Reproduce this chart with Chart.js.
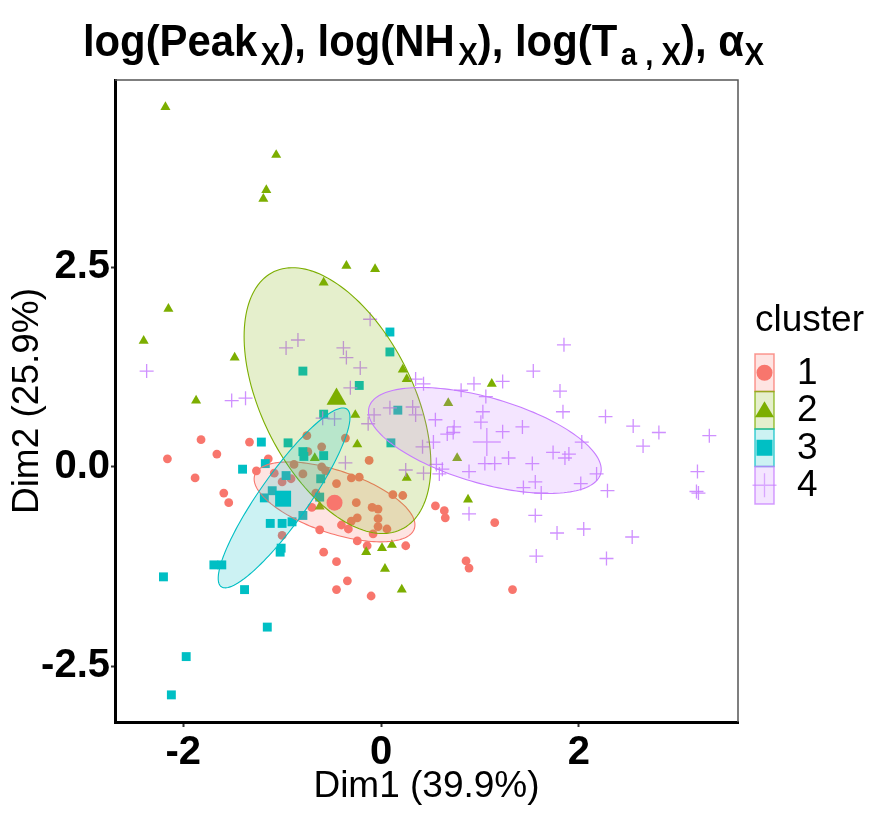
<!DOCTYPE html>
<html>
<head>
<meta charset="utf-8">
<script src="https://cdn.jsdelivr.net/npm/chart.js@4.4.1/dist/chart.umd.min.js"></script>
<style>
  html, body { margin: 0; padding: 0; background: #fff; }
  #wrap { position: relative; width: 895px; height: 813px; }
  #title {
    position: absolute; left: 0; top: 18px; width: 847px; text-align: center;
    font-family: "Liberation Sans", Arial, Helvetica, sans-serif; font-weight: bold;
    font-size: 45px; line-height: 45px; color: #000; white-space: nowrap;
    transform: scaleX(0.93); transform-origin: 423.5px 50%;
  }
  #title .s { font-size: 0.7em; vertical-align: -0.28em; margin-left: 0.12em; }
  canvas { position: absolute; left: 0; top: 0; }
</style>
</head>
<body>
<div id="wrap">
  <canvas id="c" width="895" height="813" style="width:895px;height:813px"></canvas>
  <div id="title">log(Peak<span class="s">X</span>), log(NH<span class="s">X</span>), log(T<span class="s">a , X</span>), α<span class="s" style="margin-left:0.02em">X</span></div>
</div>
<script>
// ---- data ----
const clusterNames = ['1', '2', '3', '4'];
const clusterColors = ['#F8766D', '#7CAE00', '#00BFC4', '#C77CFF'];

const cluster1 = [[-1.82,0.34],[-1.33,0.31],[-1.66,0.16],[-2.16,0.10],[-1.88,-0.14],[-1.26,-0.05],[-1.14,0.10],[-1.59,-0.33],[-1.54,-0.45],[-0.75,0.39],[-0.60,0.25],[-0.74,0.19],[-0.36,0.36],[-1.08,-0.08],[-1.00,-0.19],[-0.91,-0.15],[-0.88,0.03],[-0.79,-0.09],[-0.60,0.00],[-0.56,-0.05],[-0.45,-0.21],[-0.66,-0.33],[-0.70,-0.51],[-0.30,-0.14],[-0.22,-0.13],[-0.12,0.08],[-0.25,-0.45],[-0.09,-0.51],[-0.03,-0.53],[0.12,-0.35],[0.22,-0.36],[-0.24,-0.64],[-0.30,-0.68],[-0.03,-0.65],[-0.03,-0.75],[0.06,-0.78],[-0.08,-0.84],[-0.40,-0.73],[-0.33,-0.78],[-0.62,-0.79],[-1.00,-0.86],[-0.24,-0.93],[-0.14,-0.99],[0.25,-0.99],[-0.58,-1.07],[-0.45,-1.19],[-0.34,-1.43],[-0.45,-1.54],[-0.10,-1.62],[0.55,-0.49],[0.64,-0.55],[0.65,-0.64],[1.15,-0.70],[0.86,-1.18],[0.89,-1.27],[1.33,-1.54]];

const cluster2 = [[-2.18,4.51],[-1.06,3.91],[-1.16,3.47],[-1.19,3.36],[-0.35,2.52],[-0.06,2.48],[-0.58,2.31],[-2.15,1.98],[-2.40,1.58],[-1.48,1.37],[0.22,1.22],[0.26,1.10],[-1.87,0.83],[-0.26,0.65],[-0.24,0.28],[-0.67,0.11],[0.26,-0.14],[-0.62,-0.50],[-0.15,-1.07],[0.01,-1.02],[0.11,-0.98],[0.04,-1.28],[0.21,-1.54],[1.12,1.04],[0.68,0.80],[0.77,0.11],[0.88,-0.41]];

const cluster3 = [[0.09,1.69],[0.09,1.44],[-0.79,1.20],[-0.22,1.02],[-0.58,0.66],[0.17,0.71],[0.10,0.30],[-1.21,0.31],[-0.94,0.30],[-0.79,0.19],[-0.78,0.13],[-0.58,0.14],[-1.40,-0.03],[-1.17,0.04],[-0.96,-0.11],[-0.61,-0.15],[-1.10,-0.30],[-1.18,-0.39],[-0.62,-0.38],[-0.79,-0.61],[-1.12,-0.71],[-1.00,-0.71],[-0.90,-0.69],[-1.01,-1.02],[-1.02,-1.07],[-1.69,-1.23],[-1.61,-1.23],[-2.20,-1.38],[-1.38,-1.54],[-1.15,-2.01],[-1.97,-2.38],[-2.12,-2.86]];

const cluster4 = [[-0.11,1.85],[-0.84,1.59],[-0.96,1.49],[-0.38,1.49],[-0.35,1.37],[-0.21,1.24],[-2.37,1.20],[0.35,1.10],[0.43,1.04],[-0.31,0.99],[-1.37,0.86],[-1.51,0.83],[-0.59,0.61],[-0.47,0.60],[-0.07,0.65],[0.09,0.74],[0.32,0.75],[0.35,0.65],[-0.13,0.54],[-0.36,0.05],[0.25,-0.04],[0.43,-0.08],[0.42,0.25],[0.53,0.31],[0.55,0.59],[1.85,1.53],[1.54,1.20],[0.94,1.04],[1.23,1.07],[0.81,0.96],[1.06,0.88],[1.81,0.95],[2.27,0.63],[1.84,0.69],[1.03,0.69],[1.01,0.56],[0.74,0.50],[0.67,0.41],[0.73,0.43],[1.23,0.44],[1.43,0.50],[2.03,0.31],[1.74,0.18],[1.90,0.16],[1.86,0.11],[1.29,0.11],[1.05,0.04],[1.15,0.04],[1.53,0.04],[2.18,-0.09],[2.02,-0.21],[1.56,-0.19],[1.44,-0.26],[1.62,-0.33],[2.29,-0.30],[0.89,-0.06],[0.62,-0.03],[0.56,0.03],[0.59,-0.09],[2.55,0.51],[2.81,0.43],[2.65,0.26],[3.32,0.39],[3.20,-0.06],[3.19,-0.31],[3.21,-0.33],[0.89,-0.59],[1.56,-0.61],[1.78,-0.83],[2.05,-0.78],[2.54,-0.88],[1.57,-1.12],[2.28,-1.15]];

const centroids = [[-0.47,-0.45],[-0.45,0.85],[-0.99,-0.40],[1.07,0.31]];

// ellipse parameters: centre x, centre y, var x, var y, cov xy (data units)
const ellipseCX  = [-0.47, -0.44, -0.98, 1.05];
const ellipseCY  = [-0.44,  0.83, -0.39, 0.33];
const ellipseSXX = [0.661, 0.892, 0.444, 1.385];
const ellipseSYY = [0.251, 2.778, 1.272, 0.441];
const ellipseSXY = [-0.234, -0.758, 0.672, -0.428];

const xTicks = [-2, 0, 2];
const xTickLabels = ['-2', '0', '2'];
const yTicks = [-2.5, 0, 2.5];
const yTickLabels = ['-2.5', '0.0', '2.5'];

const titleText = 'log(Peak_X), log(NH_X), log(T_a,X), α_X';
const xTitle = 'Dim1 (39.9%)';
const yTitle = 'Dim2 (25.9%)';
const legendTitle = 'cluster';

// ---- chart ----
const FAMILY = '"Liberation Sans", Arial, Helvetica, sans-serif';
function rgba(hex, a) {
  const n = parseInt(hex.slice(1), 16);
  return `rgba(${(n >> 16) & 255},${(n >> 8) & 255},${n & 255},${a})`;
}
const styles = ['circle', 'triangle', 'rect', 'cross'];
const radii = [4.4, 5.8, 6.3, 7];
const bigRadii = [8, 11.5, 11.3, 14];
const clusterData = [cluster1, cluster2, cluster3, cluster4];

const datasets = [];
clusterData.forEach((pts, i) => {
  const cross = styles[i] === 'cross';
  datasets.push({
    label: clusterNames[i],
    data: pts.map(p => ({ x: p[0], y: p[1] })),
    pointStyle: styles[i],
    pointRadius: radii[i],
    pointHoverRadius: radii[i],
    backgroundColor: clusterColors[i],
    borderColor: cross ? rgba(clusterColors[i], 0.85) : clusterColors[i],
    borderWidth: cross ? 1.3 : 0,
    order: 5 - i
  });
});
centroids.forEach((p, i) => {
  const cross = styles[i] === 'cross';
  datasets.push({
    label: 'centre ' + clusterNames[i],
    data: [{ x: p[0], y: p[1] }],
    pointStyle: styles[i],
    pointRadius: bigRadii[i],
    pointHoverRadius: bigRadii[i],
    backgroundColor: clusterColors[i],
    borderColor: cross ? rgba(clusterColors[i], 0.7) : clusterColors[i],
    borderWidth: cross ? 1.5 : 0,
    order: 1
  });
});

const ellipsePlugin = {
  id: 'ellipses',
  afterDatasetDraw(chart, args) {
    if (args.index !== 3) return;
    const { ctx, chartArea } = chart;
    const xs = chart.scales.x, ys = chart.scales.y;
    ctx.save();
    ctx.beginPath();
    ctx.rect(chartArea.left, chartArea.top, chartArea.right - chartArea.left, chartArea.bottom - chartArea.top);
    ctx.clip();
    for (let i = 0; i < 4; i++) {
      const l11 = Math.sqrt(ellipseSXX[i]);
      const l21 = ellipseSXY[i] / l11;
      const l22 = Math.sqrt(ellipseSYY[i] - l21 * l21);
      ctx.beginPath();
      const N = 160;
      for (let k = 0; k <= N; k++) {
        const t = (k / N) * Math.PI * 2;
        const dx = ellipseCX[i] + l11 * Math.cos(t);
        const dy = ellipseCY[i] + l21 * Math.cos(t) + l22 * Math.sin(t);
        const px = xs.getPixelForValue(dx), py = ys.getPixelForValue(dy);
        if (k === 0) ctx.moveTo(px, py); else ctx.lineTo(px, py);
      }
      ctx.closePath();
      ctx.fillStyle = rgba(clusterColors[i], 0.2);
      ctx.fill();
      ctx.strokeStyle = clusterColors[i];
      ctx.lineWidth = 1.1;
      ctx.stroke();
    }
    ctx.restore();
  }
};

const framePlugin = {
  id: 'frame',
  afterDraw(chart) {
    const { ctx, chartArea } = chart;
    ctx.save();
    ctx.strokeStyle = '#555';
    ctx.lineWidth = 1.5;
    ctx.beginPath();
    ctx.moveTo(chartArea.left, chartArea.top);
    ctx.lineTo(chartArea.right, chartArea.top);
    ctx.lineTo(chartArea.right, chartArea.bottom);
    ctx.stroke();
    ctx.restore();
  }
};

const legendPlugin = {
  id: 'clusterLegend',
  afterDraw(chart) {
    const { ctx } = chart;
    const x0 = 755, w = 19, h = 37.5, top = 354;
    ctx.save();
    ctx.fillStyle = '#000';
    ctx.font = `37px ${FAMILY}`;
    ctx.textBaseline = 'alphabetic';
    ctx.textAlign = 'left';
    ctx.fillText(legendTitle, x0, 331);
    for (let i = 0; i < 4; i++) {
      const y = top + i * h;
      ctx.fillStyle = rgba(clusterColors[i], 0.2);
      ctx.fillRect(x0, y, w, h);
      ctx.strokeStyle = rgba(clusterColors[i], 0.75);
      ctx.lineWidth = 1.5;
      ctx.strokeRect(x0, y, w, h);
      const cx = x0 + w / 2, cy = y + h / 2;
      ctx.fillStyle = clusterColors[i];
      ctx.strokeStyle = clusterColors[i];
      if (i === 0) {
        ctx.beginPath(); ctx.arc(cx, cy, 8, 0, Math.PI * 2); ctx.fill();
      } else if (i === 1) {
        ctx.beginPath(); ctx.moveTo(cx, cy - 9); ctx.lineTo(cx + 9.5, cy + 7); ctx.lineTo(cx - 9.5, cy + 7); ctx.closePath(); ctx.fill();
      } else if (i === 2) {
        ctx.fillRect(cx - 8, cy - 8, 16, 16);
      } else {
        ctx.strokeStyle = rgba(clusterColors[i], 0.6);
        ctx.lineWidth = 1.3;
        ctx.beginPath(); ctx.moveTo(cx - 12, cy); ctx.lineTo(cx + 12, cy);
        ctx.moveTo(cx, cy - 12); ctx.lineTo(cx, cy + 12); ctx.stroke();
      }
      ctx.fillStyle = '#000';
      ctx.font = `37px ${FAMILY}`;
      ctx.textBaseline = 'middle';
      ctx.fillText(clusterNames[i], 797, cy + 1);
    }
    ctx.restore();
  }
};

new Chart(document.getElementById('c'), {
  type: 'scatter',
  data: { datasets },
  options: {
    responsive: false,
    animation: false,
    events: [],
    layout: { padding: { top: 80, right: 157, left: 0, bottom: 0 } },
    plugins: { legend: { display: false }, tooltip: { enabled: false }, title: { display: false } },
    scales: {
      x: {
        type: 'linear', min: -2.69, max: 3.61,
        afterBuildTicks: s => { s.ticks = xTicks.map(v => ({ value: v })); },
        afterFit: s => { s.height = 91; },
        ticks: {
          callback: (v) => xTickLabels[xTicks.indexOf(v)],
          font: { family: FAMILY, size: 40, weight: 'bold' }, color: '#000', padding: 2, maxRotation: 0
        },
        grid: { drawOnChartArea: false, drawTicks: true, tickLength: 5, tickColor: '#333', tickWidth: 2 },
        border: { display: true, color: '#000', width: 3 },
        title: { display: true, text: xTitle, color: '#000', font: { family: FAMILY, size: 37 }, padding: { top: 0, bottom: 4 } }
      },
      y: {
        type: 'linear', min: -3.2, max: 4.85,
        afterBuildTicks: s => { s.ticks = yTicks.map(v => ({ value: v })); },
        afterFit: s => { s.width = 115; },
        ticks: {
          callback: (v) => yTickLabels[yTicks.indexOf(v)],
          font: { family: FAMILY, size: 40, weight: 'bold' }, color: '#000', padding: 1
        },
        grid: { drawOnChartArea: false, drawTicks: true, tickLength: 4, tickColor: '#333', tickWidth: 2 },
        border: { display: true, color: '#000', width: 3 },
        title: { display: true, text: yTitle, color: '#000', font: { family: FAMILY, size: 37 }, padding: { top: 6, bottom: 0 } }
      }
    }
  },
  plugins: [ellipsePlugin, framePlugin, legendPlugin]
});
</script>
</body>
</html>
